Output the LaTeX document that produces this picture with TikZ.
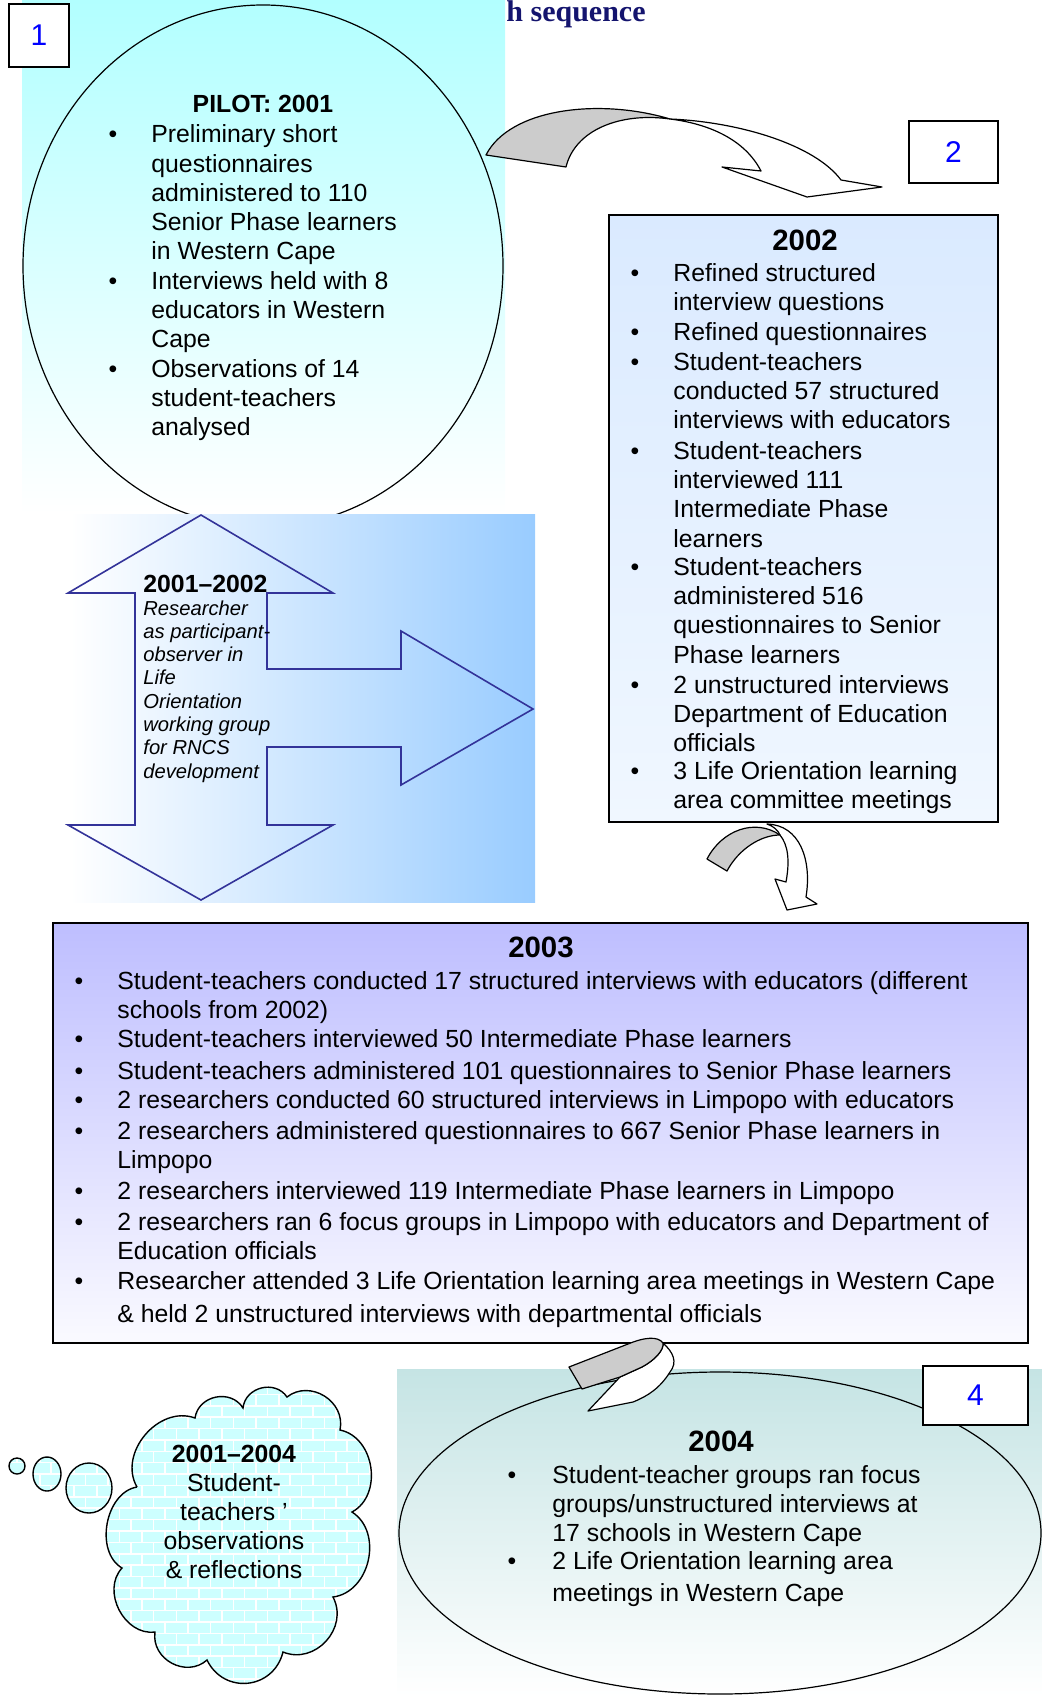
\documentclass[tikz,border=0pt]{standalone}
\usepackage{fontspec}
\setmainfont{Liberation Sans}
\newfontfamily\serifbold{Liberation Serif}
\usetikzlibrary{patterns}
\definecolor{cyanbg}{RGB}{178,255,255}
\definecolor{bluebg}{RGB}{153,204,255}
\definecolor{lavbg}{RGB}{190,190,255}
\definecolor{lavbot}{RGB}{250,250,255}
\definecolor{tealbg}{RGB}{197,228,228}
\definecolor{boxtwotop}{RGB}{218,234,255}
\definecolor{boxtwobot}{RGB}{240,247,255}
\definecolor{navyline}{RGB}{51,51,153}
\definecolor{titlenavy}{RGB}{20,20,110}
\definecolor{cloudfill}{RGB}{205,255,255}
\definecolor{numblue}{RGB}{0,0,255}
\definecolor{arrgray}{RGB}{204,204,204}
\begin{document}
\begin{tikzpicture}[x=0.5pt,y=-0.5pt,
  txt/.style={font=\fontsize{12.4}{14.6}\selectfont, anchor=base west, align=left, inner sep=0pt},
  txtb/.style={font=\bfseries\fontsize{12.4}{14.6}\selectfont, anchor=base, inner sep=0pt},
  yearb/.style={font=\bfseries\fontsize{14.7}{17}\selectfont, anchor=base, inner sep=0pt},
  bul/.style={font=\fontsize{12.4}{14.6}\selectfont, anchor=base, inner sep=0pt},
  numbox/.style={draw=black, fill=white, line width=0.8pt, text=numblue, font=\fontsize{15}{18}\selectfont, inner sep=0pt},
  framebox/.style={draw=black, line width=0.8pt, inner sep=0pt},
  band/.style={draw=black, line width=0.6pt, line join=round},
  cloudy/.style={draw=black, line width=0.7pt, preaction={fill=cloudfill}, pattern=bricks, pattern color=white},
]
\useasboundingbox (0,0) rectangle (1042,1696);

% title fragment
\node[anchor=base west, inner sep=0pt, text=titlenavy, font=\serifbold\bfseries\fontsize{15}{18}\selectfont] (title) at (506,22) {h sequence};

% ---------- 2001 pilot ----------
\shade[top color=cyanbg, bottom color=white] (22,0) rectangle (505,514);
\draw[line width=0.6pt] (263,266) ellipse [x radius=120pt, y radius=130.5pt];
\node[numbox, minimum width=30pt, minimum height=31.5pt] (n1) at (39,35.5) {1};

% (multi-line nodes: base anchor = baseline of their last line)
\node[txtb] (p0) at (263,113) {PILOT: 2001};
\node[bul] (pb1) at (113,143) {•};
\node[txt] (p1) at (151,259.8) {Preliminary short\\questionnaires\\administered to 110\\Senior Phase learners\\in Western Cape};
\node[bul] (pb2) at (113,289) {•};
\node[txt] (p2) at (151,347.4) {Interviews held with 8\\educators in Western\\Cape};
\node[bul] (pb3) at (113,377) {•};
\node[txt] (p3) at (151,435.4) {Observations of 14\\student-teachers\\analysed};

% ---------- 2001-2002 double arrow ----------
\shade[left color=white, right color=bluebg] (70,514) rectangle (535,902);
\draw[navyline, line width=0.8pt, line join=miter] (201,515) -- (333,593) -- (267,593) -- (267,669) -- (401,669) -- (401,631) -- (533,709) -- (401,785) -- (401,747) -- (267,747) -- (267,825) -- (333,825) -- (201,900) -- (68,825) -- (135,825) -- (135,593) -- (68,593) -- cycle;
\node[anchor=base west, inner sep=0pt, font=\bfseries\fontsize{12.4}{14.6}\selectfont] (r0) at (143,592) {2001–2002};
\node[anchor=base west, inner sep=0pt, align=left, font=\itshape\fontsize{10.1}{11.65}\selectfont] (r1) at (143,778.1) {Researcher\\as participant-\\observer in\\Life\\Orientation\\working group\\for RNCS\\development};

% ---------- arrow 1 -> 2 ----------
\draw[band, fill=white] (670,119) .. controls (740,122) and (815,145) .. (841,180) -- (882,187) -- (807,197) -- (722,167) -- (761,171) .. controls (745,140) and (710,124) .. (670,119) -- cycle;
\draw[band, fill=arrgray] (486,155) .. controls (510,108) and (600,98) .. (670,119) .. controls (620,112) and (575,130) .. (566,167) -- cycle;

% ---------- 2002 ----------
\node[numbox, minimum width=44.5pt, minimum height=31pt] (n2) at (953.5,152) {2};
\node[framebox, minimum width=194.5pt, minimum height=303.5pt, top color=boxtwotop, bottom color=boxtwobot] (b2) at (803.5,518.5) {};
\node[yearb] (q0) at (805,250) {2002};
\node[bul] (qb1) at (635,281) {•};
\node[txt, font=\fontsize{12.4}{14.7}\selectfont] (q1) at (673,310.4) {Refined structured\\interview questions};
\node[bul] (qb2) at (635,340) {•};
\node[txt, font=\fontsize{12.4}{14.7}\selectfont] (q2) at (673,340) {Refined questionnaires};
\node[bul] (qb3) at (635,370) {•};
\node[txt, font=\fontsize{12.4}{14.7}\selectfont] (q3) at (673,428.8) {Student-teachers\\conducted 57 structured\\interviews with educators};
\node[bul] (qb4) at (635,459) {•};
\node[txt, font=\fontsize{12.4}{14.7}\selectfont] (q4) at (673,547.2) {Student-teachers\\interviewed 111\\Intermediate Phase\\learners};
\node[bul] (qb5) at (635,575) {•};
\node[txt, font=\fontsize{12.4}{14.7}\selectfont] (q5) at (673,663.2) {Student-teachers\\administered 516\\questionnaires to Senior\\Phase learners};
\node[bul] (qb6) at (635,693) {•};
\node[txt, font=\fontsize{12.4}{14.7}\selectfont] (q6) at (673,751.8) {2 unstructured interviews\\Department of Education\\officials};
\node[bul] (qb7) at (635,779) {•};
\node[txt, font=\fontsize{12.4}{14.7}\selectfont] (q7) at (673,808.4) {3 Life Orientation learning\\area committee meetings};

% ---------- arrow 2 -> 3 ----------
\draw[band, fill=white] (767,824) .. controls (800,825) and (812,860) .. (806,897) -- (817,904) -- (787,910) -- (775,879) -- (786,882) .. controls (790,860) and (788,845) .. (780,835) .. controls (778,830) and (773,826) .. (767,824) -- cycle;
\draw[band, fill=arrgray] (707,859) .. controls (722,830) and (755,818) .. (780,835) .. controls (760,835) and (738,850) .. (727,871) -- cycle;

% ---------- 2003 ----------
\node[framebox, minimum width=487.5pt, minimum height=210pt, top color=lavbg, bottom color=lavbot] (b3) at (540.5,1133) {};
\node[yearb] (s0) at (541,957) {2003};
\node[bul] (sb1) at (79,989) {•};
\node[txt] (s1) at (117,1018.2) {Student-teachers conducted 17 structured interviews with educators (different\\schools from 2002)};
\node[bul] (sb2) at (79,1047) {•};
\node[txt] (s2) at (117,1047) {Student-teachers interviewed 50 Intermediate Phase learners};
\node[bul] (sb3) at (79,1079) {•};
\node[txt] (s3) at (117,1079) {Student-teachers administered 101 questionnaires to Senior Phase learners};
\node[bul] (sb4) at (79,1108) {•};
\node[txt] (s4) at (117,1108) {2 researchers conducted 60 structured interviews in Limpopo with educators};
\node[bul] (sb5) at (79,1139) {•};
\node[txt] (s5) at (117,1168.2) {2 researchers administered questionnaires to 667 Senior Phase learners in\\Limpopo};
\node[bul] (sb6) at (79,1199) {•};
\node[txt] (s6) at (117,1199) {2 researchers interviewed 119 Intermediate Phase learners in Limpopo};
\node[bul] (sb7) at (79,1230) {•};
\node[txt] (s7) at (117,1259.2) {2 researchers ran 6 focus groups in Limpopo with educators and Department of\\Education officials};
\node[bul] (sb8) at (79,1289) {•};
\node[txt] (s8) at (117,1322.2) {Researcher attended 3 Life Orientation learning area meetings in Western Cape\\[2pt]\& held 2 unstructured interviews with departmental officials};

% ---------- 2004 ----------
\shade[top color=tealbg, bottom color=white] (397,1369) rectangle (1042,1696);
\draw[line width=0.6pt] (720,1533) ellipse [x radius=160.5pt, y radius=80.5pt];
\node[numbox, minimum width=52.5pt, minimum height=29.5pt] (n4) at (975.5,1395.5) {4};
\node[yearb] (u0) at (721,1451) {2004};
\node[bul] (ub1) at (512,1483) {•};
\node[txt] (u1) at (552,1541.4) {Student-teacher groups ran focus\\groups/unstructured interviews at\\17 schools in Western Cape};
\node[bul] (ub2) at (512,1569) {•};
\node[txt] (u2) at (552,1601.2) {2 Life Orientation learning area\\[1.5pt]meetings in Western Cape};

% ---------- arrow 3 -> 4 ----------
\draw[band, fill=white] (663,1343) .. controls (673,1352) and (678,1362) .. (670,1372) .. controls (660,1388) and (648,1396) .. (633,1402) -- (588,1411) -- (620,1377) -- (642,1367) .. controls (655,1360) and (664,1350) .. (663,1343) -- cycle;
\draw[band, fill=arrgray] (569,1367) -- (628,1344) .. controls (645,1337) and (658,1336) .. (663,1343) .. controls (664,1350) and (655,1360) .. (642,1367) -- (620,1377) -- (582,1389) -- cycle;

% ---------- thought cloud ----------
\draw[cloudy] (137,1487) to[bend left=70, looseness=1.1] (195,1418) to[bend left=70, looseness=1.2] (243,1408) to[bend left=70, looseness=1.2] (287,1397) to[bend left=70, looseness=1.2] (340,1430) to[bend left=70, looseness=1.1] (352,1512) to[bend left=70, looseness=1.1] (333,1597) to[bend left=70, looseness=1.2] (283,1652) to[bend left=70, looseness=1.3] (207,1660) to[bend left=70, looseness=1.2] (155,1632) to[bend left=70, looseness=1.1] (122,1568) to[bend left=70, looseness=1.0] (137,1487);
\draw[cloudy] (17,1466) ellipse [x radius=4pt, y radius=4pt];
\draw[cloudy] (47,1474) ellipse [x radius=7pt, y radius=8.5pt];
\draw[cloudy] (89,1488) ellipse [x radius=11.5pt, y radius=12.5pt];
\node[anchor=base, inner sep=0pt, align=center, font=\fontsize{12.4}{14.5}\selectfont] (c1) at (234,1578) {\textbf{2001–2004}\\Student-\\teachers ’\\observations\\\& reflections};
\end{tikzpicture}
\end{document}
